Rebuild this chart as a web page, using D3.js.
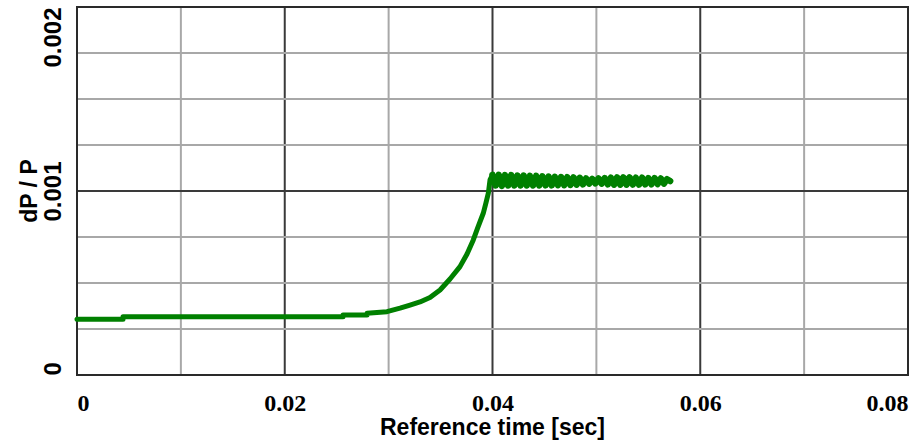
<!DOCTYPE html>
<html>
<head>
<meta charset="utf-8">
<script src="https://cdn.jsdelivr.net/npm/d3@7"></script>
<style>
  body { margin: 0; background: #fff; }
  svg { display: block; }
</style>
</head>
<body>
<div id="chart"></div>
<script>
// tick values
const x_ticks = [0, 0.02, 0.04, 0.06, 0.08]
const x_tick_labels = ['0', '0.02', '0.04', '0.06', '0.08']
const x_grid = [0.01, 0.02, 0.03, 0.04, 0.05, 0.06, 0.07]
const y_ticks = [0, 0.001, 0.002]
const y_tick_labels = ['0', '0.001', '0.002']
const y_grid = [0.00025, 0.0005, 0.00075, 0.001, 0.00125, 0.0015, 0.00175]

// slow rise before 0.04 s
const rise_time = [0, 0.00443, 0.00443, 0.02561, 0.02561, 0.02792, 0.02792, 0.02984,
    0.0311, 0.03206, 0.03302, 0.03398, 0.03495, 0.03591, 0.03687, 0.03755,
    0.03815, 0.0386, 0.03911, 0.03937, 0.0396, 0.03976, 0.0400]
const rise_value = [0.000303, 0.000303, 0.000317, 0.000317, 0.000326, 0.000326, 0.000335, 0.000344,
    0.000363, 0.00038, 0.000397, 0.000421, 0.000462, 0.000522, 0.000589, 0.000658,
    0.000734, 0.000804, 0.000879, 0.000935, 0.000988, 0.00106, 0.001088]

// oscillation after 0.04 s
const osc_time = [0.0400, 0.0403, 0.0406, 0.0409, 0.0412, 0.0415, 0.0418, 0.0421, 0.0424, 0.0427,
    0.0430, 0.0433, 0.0436, 0.0439, 0.0442, 0.0445, 0.0448, 0.0451, 0.0454, 0.0457,
    0.0460, 0.0463, 0.0466, 0.0469, 0.0472, 0.0475, 0.0478, 0.0481, 0.0484, 0.0487,
    0.0490, 0.0493, 0.0496, 0.0499, 0.0502, 0.0505, 0.0508, 0.0511, 0.0514, 0.0517,
    0.0520, 0.0523, 0.0526, 0.0529, 0.0532, 0.0535, 0.0538, 0.0541, 0.0544, 0.0547,
    0.0550, 0.0553, 0.0556, 0.0559, 0.0562, 0.0565, 0.0568, 0.0571]
const osc_value = [0.001088, 0.001030, 0.001088, 0.001028, 0.001086, 0.001030, 0.001086, 0.001030, 0.001084, 0.001030,
    0.001084, 0.001030, 0.001082, 0.001030, 0.001082, 0.001030, 0.001080, 0.001031, 0.001078, 0.001031,
    0.001077, 0.001032, 0.001076, 0.001032, 0.001075, 0.001033, 0.001074, 0.001034, 0.001072, 0.001036,
    0.001068, 0.001040, 0.001066, 0.001042, 0.001068, 0.001040, 0.001070, 0.001036, 0.001072, 0.001034,
    0.001074, 0.001034, 0.001074, 0.001034, 0.001074, 0.001035, 0.001072, 0.001035, 0.001072, 0.001036,
    0.001070, 0.001036, 0.001070, 0.001038, 0.001068, 0.001040, 0.001064, 0.001054]

const chart_width = 914
const chart_height = 444
const plot_left = 77, plot_right = 908, plot_top = 7, plot_bottom = 375

var svg = d3.select('#chart')
    .append('svg')
    .attr('width', chart_width)
    .attr('height', chart_height)

var x_scale = d3.scaleLinear().domain([0, 0.08]).range([plot_left, plot_right])
var y_scale = d3.scaleLinear().domain([0, 0.002]).range([plot_bottom, plot_top])

function isMajor(v, step){
    return Math.abs(v / step - Math.round(v / step)) < 1e-6
}

// grid
var grid = svg.append('g').attr('class', 'grid')
grid.selectAll('line.vx')
    .data(x_grid)
    .enter()
    .append('line')
    .attr('x1', d => x_scale(d)).attr('x2', d => x_scale(d))
    .attr('y1', plot_top).attr('y2', plot_bottom)
    .attr('stroke', d => isMajor(d, 0.02) ? '#3a3a3a' : '#a8a8a8')
    .attr('stroke-width', 2)
grid.selectAll('line.hy')
    .data(y_grid)
    .enter()
    .append('line')
    .attr('y1', d => y_scale(d)).attr('y2', d => y_scale(d))
    .attr('x1', plot_left).attr('x2', plot_right)
    .attr('stroke', d => isMajor(d, 0.001) ? '#3a3a3a' : '#a8a8a8')
    .attr('stroke-width', 2)

// frame
svg.append('rect')
    .attr('x', plot_left).attr('y', plot_top)
    .attr('width', plot_right - plot_left).attr('height', plot_bottom - plot_top)
    .attr('fill', 'none')
    .attr('stroke', '#2a2a2a')
    .attr('stroke-width', 2)

// x axis labels
var x_axis = d3.axisBottom(x_scale)
    .tickValues(x_ticks)
    .tickSize(0)
    .tickPadding(0)
    .tickFormat((d, i) => x_tick_labels[i])
var gx = svg.append('g')
    .attr('transform', 'translate(0,' + plot_bottom + ')')
    .call(x_axis)
gx.select('.domain').remove()
gx.selectAll('text')
    .attr('y', 36)
    .attr('dy', 0)
    .attr('fill', '#000')
    .style('font-family', '"Liberation Serif", "Times New Roman", serif')
    .style('font-weight', 'bold')
    .style('font-size', '24px')
    .attr('text-anchor', (d, i) => i == 0 ? 'start' : (i == x_ticks.length - 1 ? 'end' : 'middle'))

// y axis labels
var y_axis = d3.axisLeft(y_scale)
    .tickValues(y_ticks)
    .tickSize(0)
    .tickFormat((d, i) => y_tick_labels[i])
var gy = svg.append('g')
    .attr('transform', 'translate(' + plot_left + ',0)')
    .call(y_axis)
gy.select('.domain').remove()
gy.selectAll('text')
    .attr('x', 0)
    .attr('dy', 0)
    .attr('transform', 'translate(-16,0) rotate(-90)')
    .attr('fill', '#000')
    .style('font-family', '"Liberation Sans", Arial, sans-serif')
    .style('font-weight', 'bold')
    .style('font-size', '24px')
    .attr('text-anchor', (d, i) => i == 0 ? 'start' : (i == y_ticks.length - 1 ? 'end' : 'middle'))

// axis titles
svg.append('text')
    .attr('x', (plot_left + plot_right) / 2)
    .attr('y', 435)
    .attr('text-anchor', 'middle')
    .style('font-family', '"Liberation Sans", Arial, sans-serif')
    .style('font-weight', 'bold')
    .style('font-size', '23px')
    .text('Reference time [sec]')
svg.append('text')
    .attr('transform', 'translate(37,' + ((plot_top + plot_bottom) / 2) + ') rotate(-90)')
    .attr('text-anchor', 'middle')
    .style('font-family', '"Liberation Sans", Arial, sans-serif')
    .style('font-weight', 'bold')
    .style('font-size', '23px')
    .text('dP / P')

// series
var line = d3.line()
    .x(d => x_scale(d[0]))
    .y(d => y_scale(d[1]))
var series = svg.append('g').attr('class', 'series')
series.append('path')
    .datum(rise_time.map((t, i) => [t, rise_value[i]]))
    .attr('d', line)
    .attr('fill', 'none')
    .attr('stroke', '#008000')
    .attr('stroke-width', 5)
    .attr('stroke-linejoin', 'round')
    .attr('stroke-linecap', 'round')
series.append('path')
    .datum(osc_time.map((t, i) => [t, osc_value[i]]))
    .attr('d', line)
    .attr('fill', 'none')
    .attr('stroke', '#008000')
    .attr('stroke-width', 6.5)
    .attr('stroke-linejoin', 'round')
    .attr('stroke-linecap', 'round')
</script>
</body>
</html>
